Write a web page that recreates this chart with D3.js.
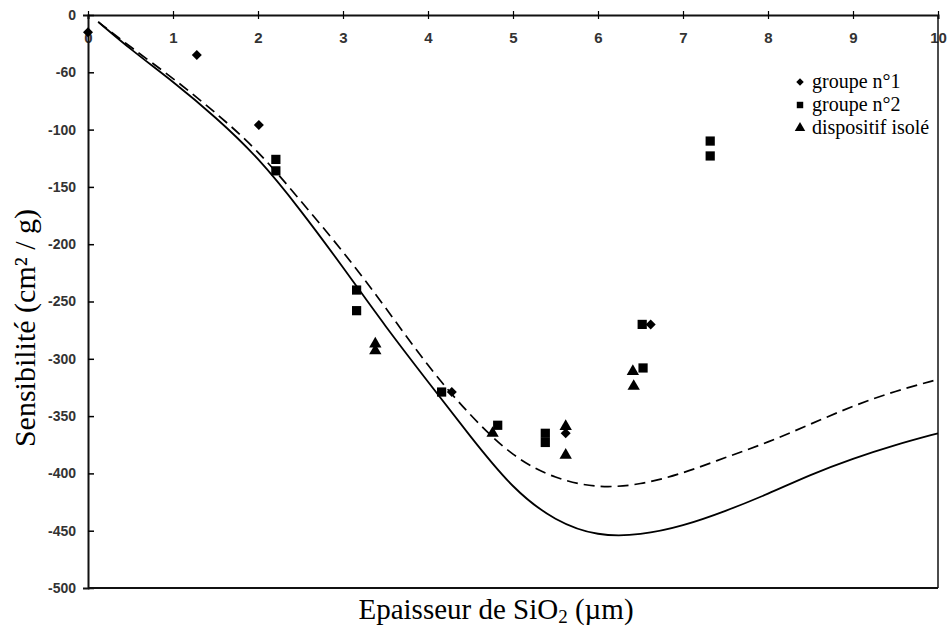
<!DOCTYPE html>
<html>
<head>
<meta charset="utf-8">
<script src="https://cdn.jsdelivr.net/npm/d3@7"></script>
<style>
  body { margin: 0; background: #fff; }
  .tick text { font-family: 'Liberation Sans', Arial, sans-serif; font-weight: bold; fill: #333; }
</style>
</head>
<body>
<div id="chart"></div>
<script>
// axis ticks
const xTicks = [0, 1, 2, 3, 4, 5, 6, 7, 8, 9, 10]
const yTicks = [0, -50, -100, -150, -200, -250, -300, -350, -400, -450, -500]
const yTickLabels = ['0', '-60', '-100', '-150', '-200', '-250', '-300', '-350', '-400', '-450', '-500']

// model curves [thickness, sensitivity]
const solidCurve = [[0.12, -6], [0.5, -30], [1.0, -58], [1.5, -89], [2.0, -124], [2.5, -170], [3.0, -220],
  [3.5, -272], [4.0, -320], [4.5, -368], [5.0, -414], [5.5, -442], [6.0, -455], [6.5, -454], [7.0, -446],
  [7.5, -433], [8.0, -418], [8.5, -401], [9.0, -387], [9.5, -375], [10.0, -365]]
const dashedCurve = [[0.12, -6], [0.5, -28], [1.0, -55], [1.5, -85], [2.0, -118], [2.5, -162], [3.0, -206],
  [3.5, -255], [4.0, -307], [4.5, -350], [5.0, -386], [5.5, -405], [6.0, -413], [6.5, -410], [7.0, -400],
  [7.5, -386], [8.0, -373], [8.5, -357], [9.0, -341], [9.5, -328], [10.0, -318]]

// measurements
const groupe1 = [[0, -15], [1.28, -35], [2.01, -96], [4.28, -329], [5.62, -365], [6.62, -270]]
const groupe2 = [[2.21, -126], [2.21, -136], [3.16, -240], [3.16, -258], [4.16, -329], [4.82, -358],
  [5.38, -365], [5.38, -373], [6.52, -270], [6.53, -308], [7.32, -110], [7.32, -123]]
const isole = [[3.38, -287], [3.38, -293], [4.76, -365], [5.62, -359], [5.62, -384], [6.41, -311], [6.42, -324]]

const legendLabels = ['groupe n°1', 'groupe n°2', 'dispositif isolé']

const width = 947
const height = 630

const svg = d3.select('#chart')
  .append('svg')
  .attr('width', width)
  .attr('height', height)

const x = d3.scaleLinear().domain([0, 10]).range([88, 938])
const y = d3.scaleLinear().domain([0, -500]).range([15, 588])

// top axis (zero line)
const xAxis = svg.append('g')
  .attr('transform', `translate(0, ${y(0)})`)
  .call(d3.axisBottom(x).tickValues(xTicks).tickFormat(d3.format('d')).tickSize(4).tickPadding(13))
xAxis.select('.domain').attr('stroke-width', 2).attr('stroke', '#111')
xAxis.selectAll('.tick line').attr('y1', -4).attr('stroke-width', 1.2)
xAxis.selectAll('.tick text').style('font-size', '15px')

// left axis
const yAxis = svg.append('g')
  .attr('transform', `translate(${x(0)}, 0)`)
  .call(d3.axisLeft(y).tickValues(yTicks).tickFormat((d, i) => yTickLabels[i]).tickSize(5).tickPadding(7))
yAxis.select('.domain').attr('stroke-width', 2).attr('stroke', '#111')
yAxis.selectAll('.tick line').attr('x2', 6).attr('stroke-width', 1.5)
yAxis.selectAll('.tick text').style('font-size', '14px')

// frame bottom + right
svg.append('line')
  .attr('x1', x(0)).attr('x2', x(10)).attr('y1', y(-500)).attr('y2', y(-500))
  .attr('stroke', '#111').attr('stroke-width', 2)
svg.append('line')
  .attr('x1', x(10)).attr('x2', x(10)).attr('y1', y(0)).attr('y2', y(-500))
  .attr('stroke', '#111').attr('stroke-width', 1.5)

const line = d3.line()
  .x(d => x(d[0]))
  .y(d => y(d[1]))
  .curve(d3.curveBasis)

svg.append('path')
  .attr('d', line(solidCurve))
  .attr('fill', 'none')
  .attr('stroke', '#000')
  .attr('stroke-width', 1.8)

svg.append('path')
  .attr('d', line(dashedCurve))
  .attr('fill', 'none')
  .attr('stroke', '#000')
  .attr('stroke-width', 1.7)
  .attr('stroke-dasharray', '11,6')

const diamond = d3.symbol().type(d3.symbolSquare).size(50)
const square = d3.symbol().type(d3.symbolSquare).size(85)
const triangle = d3.symbol().type(d3.symbolTriangle).size(66)

const drawPoints = (data, sym, rot) => {
  svg.append('g')
    .selectAll('path')
    .data(data)
    .enter()
    .append('path')
    .attr('d', sym())
    .attr('transform', d => `translate(${x(d[0])}, ${y(d[1])}) rotate(${rot})`)
    .attr('fill', '#000')
}
drawPoints(groupe1, diamond, 45)
drawPoints(groupe2, square, 0)
drawPoints(isole, triangle, 0)

// legend
const legend = svg.append('g').attr('transform', 'translate(800, 82)')
const legendSyms = [[diamond, 45, 0.75], [square, 0, 0.7], [triangle, 0, 0.85]]
legendLabels.forEach((label, i) => {
  const row = legend.append('g').attr('transform', `translate(0, ${i * 23})`)
  row.append('path')
    .attr('d', legendSyms[i][0]())
    .attr('transform', `rotate(${legendSyms[i][1]}) scale(${legendSyms[i][2]})`)
  row.append('text')
    .attr('x', 12)
    .attr('y', 6)
    .style('font-family', "'Liberation Serif', 'Times New Roman', serif")
    .style('font-size', '20px')
    .text(label)
})

// axis titles
svg.append('text')
  .attr('transform', 'translate(35, 328) rotate(-90)')
  .attr('text-anchor', 'middle')
  .style('font-family', "'Liberation Serif', 'Times New Roman', serif")
  .style('font-size', '30px')
  .text('Sensibilité (cm² / g)')

const xTitle = svg.append('text')
  .attr('x', 496)
  .attr('y', 619)
  .attr('text-anchor', 'middle')
  .style('font-family', "'Liberation Serif', 'Times New Roman', serif")
  .style('font-size', '29px')
xTitle.append('tspan').text('Epaisseur de SiO')
xTitle.append('tspan').attr('dy', 4).style('font-size', '19px').text('2')
xTitle.append('tspan').attr('dy', -4).text(' (µm)')
</script>
</body>
</html>
